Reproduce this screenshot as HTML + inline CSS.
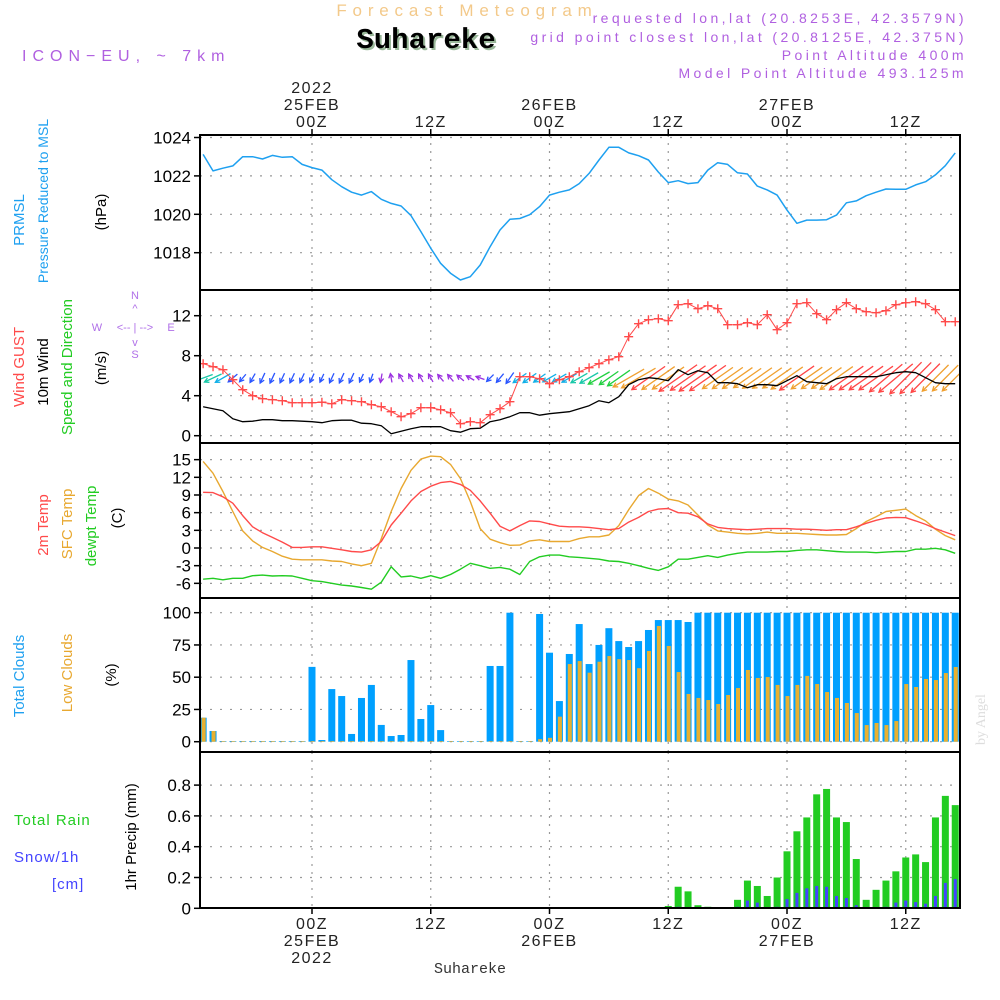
<!DOCTYPE html>
<html><head><meta charset="utf-8"><style>
html,body{margin:0;padding:0;background:#fff;}
svg{display:block;font-family:"Liberation Sans",sans-serif;}
</style></head><body>
<svg id="chart" width="1000" height="1000" viewBox="0 0 1000 1000">
<defs><clipPath id="clip"><rect x="200" y="130" width="760" height="780"/></clipPath></defs>
<rect x="0" y="0" width="1000" height="1000" fill="#fff"/>
<text x="467" y="16" text-anchor="middle" font-size="17" fill="#f3c98a" letter-spacing="5.8">Forecast Meteogram</text>
<text x="428" y="50" text-anchor="middle" font-size="29" font-weight="bold" fill="#9ab89a" font-family="Liberation Mono, monospace">Suhareke</text>
<text x="426" y="48" text-anchor="middle" font-size="29" font-weight="bold" fill="#000" font-family="Liberation Mono, monospace">Suhareke</text>
<text x="22" y="61" font-size="16" fill="#b060e0" letter-spacing="6">ICON−EU, ~ 7km</text>
<g font-size="14" fill="#b060e0" text-anchor="end" letter-spacing="3.4">
<text x="967" y="23">requested lon,lat (20.8253E, 42.3579N)</text>
<text x="967" y="42">grid point closest lon,lat (20.8125E, 42.375N)</text>
<text x="967" y="60">Point Altitude 400m</text>
<text x="967" y="78">Model Point Altitude 493.125m</text>
</g>
<g id="grid"></g>
<g id="marks" clip-path="url(#clip)"></g>
<g id="frame"></g>
<g id="labels"></g>
<text transform="translate(985,745) rotate(-90)" font-size="14" fill="#ddd" font-family="Liberation Serif, serif">by Angel</text>
<text x="470" y="973" text-anchor="middle" font-size="15" fill="#333" font-family="Liberation Mono, monospace">Suhareke</text>
</svg>
<script>
const hours = [];
for (let h = -11; h <= 65; h++) hours.push(h);
const pressure = [1023.12,1022.26,1022.4,1022.52,1023.0,1023.0,1022.88,1023.07,1022.97,1023.0,1022.6,
1022.43,1022.3,1021.8,1021.44,1021.15,1021.0,1021.18,1020.78,1020.57,1020.43,
1019.93,1019.1,1018.23,1017.45,1016.93,1016.58,1016.75,1017.36,1018.31,1019.18,
1019.74,1019.78,1019.98,1020.4,1021.0,1021.15,1021.27,1021.6,1022.13,1022.83,
1023.49,1023.49,1023.2,1023.05,1022.83,1022.2,1021.65,1021.75,1021.6,1021.65,
1022.3,1022.69,1022.6,1022.16,1022.1,1021.47,1021.27,1021.0,1020.22,1019.53,
1019.7,1019.7,1019.72,1019.96,1020.6,1020.7,1020.97,1021.15,1021.32,1021.3,
1021.3,1021.53,1021.7,1022.05,1022.53,1023.2];
const gust = [7.2,6.9,6.6,5.6,4.6,4.0,3.7,3.6,3.5,3.3,3.3,
3.3,3.35,3.2,3.6,3.5,3.4,3.1,2.9,2.4,1.9,
2.2,2.8,2.8,2.6,2.3,1.2,1.4,1.3,2.1,2.7,
3.4,5.9,5.9,5.7,5.2,5.6,5.9,6.4,6.8,7.2,
7.6,7.9,9.9,11.2,11.6,11.7,11.5,13.1,13.2,12.7,
13.0,12.7,11.1,11.1,11.3,11.1,12.1,10.6,11.3,13.2,
13.3,12.2,11.6,12.6,13.3,12.7,12.4,12.3,12.5,13.1,
13.3,13.4,13.2,12.6,11.4,11.4];
const wind = [2.9,2.7,2.5,1.7,1.4,1.45,1.6,1.6,1.5,1.5,1.45,
1.4,1.3,1.5,1.55,1.55,1.25,1.2,1.0,0.2,0.45,
0.7,0.9,0.9,0.9,0.5,0.35,0.7,0.75,1.4,1.6,
1.9,2.3,2.3,2.05,2.2,2.3,2.4,2.7,3.0,3.5,
3.3,3.9,5.1,5.6,5.8,5.7,5.5,6.6,6.1,6.5,
6.3,5.3,5.3,5.2,4.8,5.1,5.1,5.0,5.5,6.0,
5.4,5.3,5.2,5.7,5.9,5.9,5.9,5.9,6.1,6.3,
6.4,6.3,5.8,5.3,5.2,5.2];
const windDir = [70,65,60,50,40,30,25,25,25,25,25,
25,25,25,25,25,25,20,10,170,150,
150,150,150,140,140,130,120,110,45,40,
35,55,55,55,60,60,60,60,60,60,
55,55,60,60,55,55,55,55,55,55,
55,55,55,55,55,55,55,55,55,55,
55,55,55,55,55,55,55,55,50,50,
45,45,45,45,45,45];
const temp2m = [9.45,9.4,8.7,7.6,5.5,3.6,2.6,1.8,1.0,0.1,0.1,
0.2,0.2,-0.05,-0.3,-0.6,-0.7,-0.3,1.1,3.9,5.9,
8.0,9.6,10.5,11.1,11.3,10.8,9.8,8.0,5.9,3.7,
2.9,3.8,4.6,4.5,4.1,3.7,3.6,3.6,3.5,3.3,
3.1,3.3,4.4,5.2,6.2,6.6,6.7,6.0,5.9,5.3,
4.1,3.5,3.3,3.2,3.1,3.2,3.3,3.3,3.3,3.2,
3.2,3.1,3.0,3.1,3.1,3.6,4.2,4.7,5.1,5.2,
5.15,4.6,4.0,3.3,2.7,2.1];
const tempSfc = [14.7,12.7,9.6,6.2,2.9,1.2,0.1,-0.6,-1.4,-1.9,-2.0,
-2.0,-2.0,-2.2,-2.3,-2.7,-3.0,-2.6,1.6,6.2,10.1,
13.2,15.1,15.6,15.5,14.2,11.8,7.9,3.3,1.5,0.9,
0.45,0.5,1.2,1.4,1.1,1.1,1.1,1.6,1.9,1.9,
2.2,3.8,6.5,8.9,10.1,9.3,8.3,8.0,7.3,5.6,
3.9,2.9,2.7,2.5,2.4,2.5,2.7,2.5,2.5,2.5,
2.4,2.3,2.2,2.2,2.3,3.3,4.5,5.3,6.2,6.4,
6.6,5.5,4.6,3.2,2.1,1.4];
const dewpt = [-5.3,-5.15,-5.4,-5.15,-5.15,-4.7,-4.6,-4.75,-4.7,-4.75,-5.15,
-5.55,-5.7,-6.0,-6.3,-6.45,-6.7,-7.0,-5.8,-3.2,-4.9,
-4.75,-5.15,-4.7,-5.15,-4.5,-3.6,-2.6,-3.0,-3.45,-3.3,
-3.6,-4.5,-2.3,-1.5,-1.2,-1.2,-1.5,-1.6,-1.75,-1.9,
-2.2,-2.3,-2.6,-3.0,-3.45,-3.8,-3.2,-1.9,-1.9,-1.6,
-1.3,-1.6,-1.2,-0.9,-0.7,-0.7,-0.7,-0.6,-0.6,-0.4,
-0.3,-0.3,-0.45,-0.6,-0.7,-0.7,-0.7,-0.8,-0.7,-0.6,
-0.6,-0.2,-0.2,-0.05,-0.3,-0.9];
const totalClouds = [18.6,8.3,0.5,0.5,0.5,0.5,0.5,0.5,0.5,0.5,0.5,
58,1.3,40.8,35.4,6,33.9,44,13,4.4,5.2,
63.3,17.6,28.4,9,0.5,0.5,0.5,0.5,58.7,58.7,
100,0.5,0.5,99,69,31.5,68,91.2,60.2,75,
88,78,73.4,78,86.6,94.3,94.3,94.3,92.8,100,
100,100,100,100,100,100,100,100,100,100,
100,100,100,100,100,100,100,100,100,100,
100,100,100,100,100,100];
const lowClouds = [18.6,8.3,0.5,0.5,0.5,0.5,0.5,0.5,0.5,0.5,0.5,
0.5,0.5,0.5,0.5,0.5,0.5,0.5,0.5,0.5,0.5,
0.5,0.5,0.5,0.5,0.5,0.5,0.5,0.5,0.5,0.5,
0.5,0.5,0.5,2,3,19.4,60.2,62.5,53.5,62,
66.4,64,63.3,57,70.3,89.7,74.2,54,37,33.9,
32.3,29.2,36.2,41.6,55.6,49.4,50.1,44,35.4,44,
51,44.7,38.5,33.9,30,22.2,12.9,14.5,12.9,16,
44.7,42.4,48.6,47.8,53.2,57.9];
const rain = [0,0,0,0,0,0,0,0,0,0,0,
0,0,0,0,0,0,0,0,0,0,
0,0,0,0,0,0,0,0,0,0,
0,0,0,0,0,0,0,0,0,0,
0,0,0,0,0,0,0.015,0.14,0.11,0.02,
0.01,0,0,0.055,0.18,0.145,0.08,0.2,0.37,0.5,
0.59,0.74,0.775,0.59,0.56,0.32,0.055,0.12,0.18,0.24,
0.33,0.35,0.3,0.59,0.73,0.67];
const snow = [0,0,0,0,0,0,0,0,0,0,0,
0,0,0,0,0,0,0,0,0,0,
0,0,0,0,0,0,0,0,0,0,
0,0,0,0,0,0,0,0,0,0,
0,0,0,0,0,0,0,0.01,0,0,
0,0,0,0.01,0.05,0.037,0,0.01,0.06,0.1,
0.13,0.145,0.14,0.08,0.067,0.02,0,0,0.01,0.037,
0.05,0.04,0.03,0.08,0.165,0.19];
const pressureTicks = [1018,1020,1022,1024];
const windTicks = [0,4,8,12];
const tempTicks = [-6,-3,0,3,6,9,12,15];
const cloudTicks = [0,25,50,75,100];
const precipTicks = [0,0.2,0.4,0.6,0.8];
const timeTicks = [0,12,24,36,48,60];
const topLabels = [["2022","25FEB","00Z"],["12Z"],["26FEB","00Z"],["12Z"],["27FEB","00Z"],["12Z"]];
const bottomLabels = [["00Z","25FEB","2022"],["12Z"],["00Z","26FEB"],["12Z"],["00Z","27FEB"],["12Z"]];

const NS = "http://www.w3.org/2000/svg";
const X0 = 200, X1 = 960;
const xs = h => 312 + h * 9.896;
const yP = v => 137.5 + (1024 - v) * 19.2;
const yW = v => 435.7 - v * 10;
const yT = v => 548 - v * 5.89;
const yC = v => 741.7 - v * 1.29;
const yR = v => 908.3 - v * 154;
const panels = [[135,290],[290,443],[443,598],[598,752],[752,908]];

function mk(tag, attrs, parent) {
  const e = document.createElementNS(NS, tag);
  for (const k in attrs) e.setAttribute(k, attrs[k]);
  parent.appendChild(e);
  return e;
}
const grid = document.getElementById('grid');
const marks = document.getElementById('marks');
const frame = document.getElementById('frame');
const labels = document.getElementById('labels');

timeTicks.forEach(h => {
  panels.forEach(p => {
    const l = mk('line', {x1: xs(h), x2: xs(h), y1: p[0], y2: p[1], stroke: '#999', 'stroke-width': 1.2, 'stroke-dasharray': '2,6'}, grid);
    
    
  });
});
function yAxis(ticks, sc, name, fmt) {
  ticks.forEach(t => {
    const y = sc(t);
    const l = mk('line', {x1: X0, x2: X1, y1: y, y2: y, stroke: '#999', 'stroke-width': 1.2, 'stroke-dasharray': '2,8'}, grid);
    
    
    mk('line', {x1: X0 - 6, x2: X0, y1: y, y2: y, stroke: '#000', 'stroke-width': 1.5}, frame);
    const tx = mk('text', {x: X0 - 9, y: y + 6, 'text-anchor': 'end', 'font-size': 17, fill: '#000'}, labels);
    tx.textContent = fmt ? fmt(t) : String(t);
    
    
  });
}
yAxis(pressureTicks, yP, 'pressure');
yAxis(windTicks, yW, 'wind');
yAxis(tempTicks, yT, 'temp');
yAxis(cloudTicks, yC, 'cloud');
yAxis(precipTicks, yR, 'precip', t => t === 0 ? '0' : t.toFixed(1));

panels.forEach((p, i) => {
  const r = mk('rect', {x: X0, y: p[0], width: X1 - X0, height: p[1] - p[0], fill: 'none', stroke: '#000', 'stroke-width': 2}, frame);
  
  
});
timeTicks.forEach((h, i) => {
  mk('line', {x1: xs(h), x2: xs(h), y1: 129, y2: 135, stroke: '#000', 'stroke-width': 1.5}, frame);
  mk('line', {x1: xs(h), x2: xs(h), y1: 908, y2: 914, stroke: '#000', 'stroke-width': 1.5}, frame);
  topLabels[i].forEach((s, j) => {
    const n = topLabels[i].length;
    const t = mk('text', {x: xs(h), y: 127 - (n - 1 - j) * 17, 'text-anchor': 'middle', 'font-size': 16, fill: '#222', 'letter-spacing': 1.5}, labels);
    t.textContent = s;
    
    
  });
  bottomLabels[i].forEach((s, j) => {
    const t = mk('text', {x: xs(h), y: 929 + j * 17, 'text-anchor': 'middle', 'font-size': 16, fill: '#222', 'letter-spacing': 1.5}, labels);
    t.textContent = s;
    
    
  });
});

function line(vals, sc, color, w, name) {
  const d = vals.map((v, i) => (i ? 'L' : 'M') + xs(hours[i]).toFixed(1) + ',' + sc(v).toFixed(1)).join('');
  const p = mk('path', {d: d, fill: 'none', stroke: color, 'stroke-width': w, 'stroke-linejoin': 'round'}, marks);
  
  
}
line(pressure, yP, '#1ea0f0', 1.5, 'pressure-line');

function spdColor(s) {
  if (s < 1.05) return '#9a30e0';
  if (s < 2.0) return '#2a55ff';
  if (s < 2.6) return '#12b0e8';
  if (s < 3.2) return '#18c8a8';
  if (s < 4.0) return '#20d040';
  if (s < 4.7) return '#d8d020';
  if (s < 5.8) return '#f0a030';
  return '#ff4646';
}
wind.forEach((s, i) => {
  const dir = windDir[i] * Math.PI / 180;
  const len = Math.max(9, s * 7);
  const ux = -Math.sin(dir), uy = Math.cos(dir);
  const cx = xs(hours[i]), cy = 378;
  const x1 = cx - ux * len / 2, y1 = cy - uy * len / 2;
  const x2 = cx + ux * len / 2, y2 = cy + uy * len / 2;
  const a = Math.atan2(y2 - y1, x2 - x1);
  const hl = 5;
  const col = spdColor(s);
  const g = mk('g', {stroke: col, 'stroke-width': 1.3, fill: 'none'}, marks);
  
  
  mk('line', {x1: x1, y1: y1, x2: x2, y2: y2}, g);
  mk('path', {d: 'M' + (x2 - hl * Math.cos(a - 0.5)) + ',' + (y2 - hl * Math.sin(a - 0.5)) + 'L' + x2 + ',' + y2 + 'L' + (x2 - hl * Math.cos(a + 0.5)) + ',' + (y2 - hl * Math.sin(a + 0.5))}, g);
});
line(wind, yW, '#000', 1.3, 'wind-speed-line');
line(gust, yW, '#ff4a4a', 1, 'gust-line');
gust.forEach((v, i) => {
  const x = xs(hours[i]), y = yW(v);
  const p = mk('path', {d: `M${x-4.5},${y}H${x+4.5}M${x},${y-4.5}V${y+4.5}`, stroke: '#ff4a4a', 'stroke-width': 1.4}, marks);
  
  
});

line(tempSfc, yT, '#e8a830', 1.4, 'sfc-temp-line');
line(temp2m, yT, '#ff4a4a', 1.4, '2m-temp-line');
line(dewpt, yT, '#22cc22', 1.4, 'dewpoint-line');

totalClouds.forEach((v, i) => {
  const x = xs(hours[i]);
  const r = mk('rect', {x: x - 3.5, y: yC(v), width: 7, height: yC(0) - yC(v), fill: '#00a0ff'}, marks);
  
  
});
lowClouds.forEach((v, i) => {
  const x = xs(hours[i]);
  const r = mk('rect', {x: x - 1.5, y: yC(v), width: 4, height: yC(0) - yC(v), fill: '#e8b030'}, marks);
  
  
});
rain.forEach((v, i) => {
  if (v <= 0) return;
  const x = xs(hours[i]);
  const r = mk('rect', {x: x - 3.5, y: yR(v), width: 7, height: yR(0) - yR(v), fill: '#22cc22'}, marks);
  
  
});
snow.forEach((v, i) => {
  if (v <= 0) return;
  const x = xs(hours[i]);
  const r = mk('rect', {x: x - 1.5, y: yR(v), width: 3, height: yR(0) - yR(v), fill: '#4444ff'}, marks);
  
  
});

function vtext(x, y, s, col, name, size) {
  const t = mk('text', {transform: `translate(${x},${y}) rotate(-90)`, 'text-anchor': 'middle', 'font-size': size || 15, fill: col}, labels);
  t.textContent = s;
  
  
}
vtext(24, 220, 'PRMSL', '#1ea0f0', 'prmsl-title');
vtext(48, 201, 'Pressure Reduced to MSL', '#1ea0f0', 'pressure-title', 14);
vtext(106, 212, '(hPa)', '#000', 'pressure-unit');
vtext(24, 367, 'Wind GUST', '#ff4a4a', 'gust-title');
vtext(48, 372, '10m Wind', '#000', 'wind-title');
vtext(72, 367, 'Speed and Direction', '#22cc22', 'wind-direction-title');
vtext(106, 368, '(m/s)', '#000', 'wind-unit');
vtext(48, 525, '2m Temp', '#ff4a4a', 'temp2m-title');
vtext(72, 524, 'SFC Temp', '#e8a830', 'sfc-temp-title');
vtext(96, 526, 'dewpt Temp', '#22cc22', 'dewpoint-title');
vtext(122, 518, '(C)', '#000', 'temp-unit');
vtext(24, 676, 'Total Clouds', '#1ea0f0', 'total-cloud-title');
vtext(72, 673, 'Low Clouds', '#e8a830', 'low-cloud-title');
vtext(116, 675, '(%)', '#000', 'cloud-unit');
vtext(136, 837, '1hr Precip (mm)', '#000', 'precip-title');
[['Total  Rain', 14, 825, '#22cc22'], ['Snow/1h', 14, 862, '#4444ff'], ['[cm]', 52, 889, '#4444ff']].forEach(a => {
  const t = mk('text', {x: a[1], y: a[2], 'font-size': 15, fill: a[3], 'letter-spacing': 1, 'xml:space': 'preserve'}, labels);
  t.textContent = a[0];
  
  
});
[['N', 135, 299], ['^', 135, 312], ['W', 97, 331], ['<-- | -->', 135, 331], ['E', 171, 331], ['v', 135, 346], ['S', 135, 358]].forEach(a => {
  const t = mk('text', {x: a[1], y: a[2], 'font-size': 11, fill: '#b070e8', 'text-anchor': 'middle'}, labels);
  t.textContent = a[0];
  
  
});
</script>
</body></html>
